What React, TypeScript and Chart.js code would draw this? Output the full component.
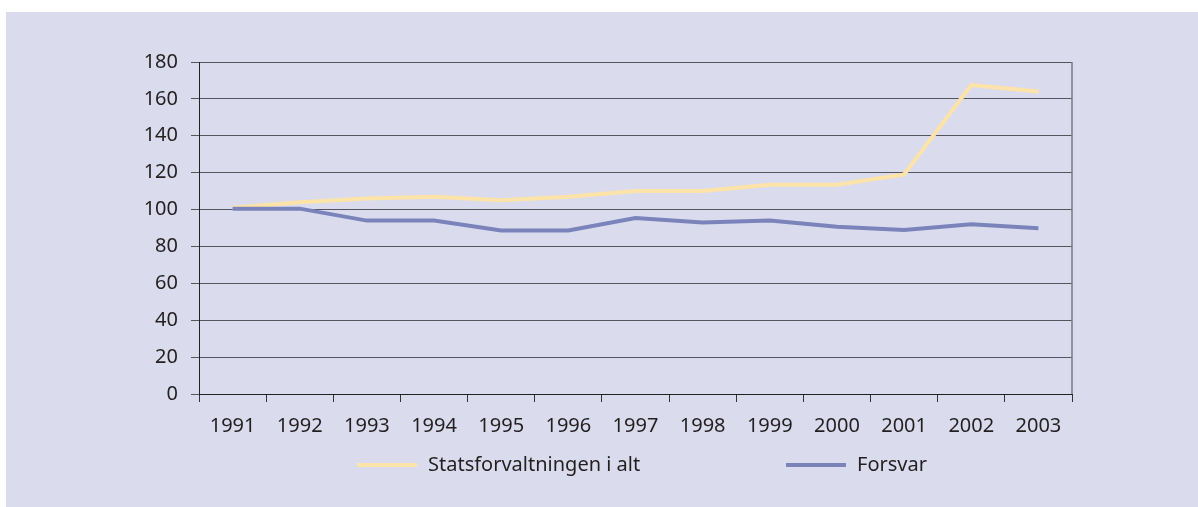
import React, { useEffect, useRef } from "react";
import { Chart, registerables } from "chart.js";

Chart.register(...registerables);

const years = ["1991", "1992", "1993", "1994", "1995", "1996", "1997", "1998", "1999", "2000", "2001", "2002", "2003"];
const statsforvaltningen = [101, 104, 106, 107, 105, 107, 110, 110, 113.5, 113.5, 119, 167.5, 164];
const forsvar = [100.5, 100.5, 94, 94, 88.7, 88.7, 95.4, 93, 94, 90.7, 88.9, 92, 89.8];
const seriesNames = ["Statsforvaltningen i alt", "Forsvar"];
const seriesColors = ["#fde3a7", "#7a84bb"];
const yMin = 0;
const yMax = 180;
const yStep = 20;

const FONT = "'Noto Sans', sans-serif";
const TEXT = "#231f20";

const legendPlugin = {
  id: "customLegend",
  afterDraw(chart: any) {
    const { ctx, chartArea } = chart;
    const y = chartArea.bottom + 71;
    const starts = [chartArea.left + 158, chartArea.left + 587];
    ctx.save();
    chart.data.datasets.forEach((ds: any, i: number) => {
      const x = starts[i];
      ctx.strokeStyle = ds.borderColor;
      ctx.lineWidth = 4;
      ctx.beginPath();
      ctx.moveTo(x, y);
      ctx.lineTo(x + 60, y);
      ctx.stroke();
      ctx.fillStyle = TEXT;
      ctx.font = `20px ${FONT}`;
      ctx.textBaseline = "middle";
      ctx.textAlign = "left";
      ctx.fillText(ds.label, x + 71, y);
    });
    // right border of plot area
    ctx.strokeStyle = "#7a7a80";
    ctx.lineWidth = 1.5;
    ctx.beginPath();
    ctx.moveTo(chartArea.right, chartArea.top);
    ctx.lineTo(chartArea.right, chartArea.bottom);
    ctx.stroke();
    ctx.restore();
  },
};

export default function App() {
  const ref = useRef<HTMLCanvasElement | null>(null);
  useEffect(() => {
    if (!ref.current) return;
    const chart = new Chart(ref.current, {
      type: "line",
      data: {
        labels: years,
        datasets: [
          {
            label: seriesNames[0],
            data: statsforvaltningen,
            borderColor: seriesColors[0],
            backgroundColor: seriesColors[0],
            borderWidth: 4,
            pointRadius: 0,
            tension: 0,
            order: 1,
          },
          {
            label: seriesNames[1],
            data: forsvar,
            borderColor: seriesColors[1],
            backgroundColor: seriesColors[1],
            borderWidth: 4,
            pointRadius: 0,
            tension: 0,
            order: 0,
          },
        ],
      },
      options: {
        responsive: false,
        animation: false,
        devicePixelRatio: 1,
        layout: { padding: { top: 50, right: 126, left: 0, bottom: 0 } },
        plugins: { legend: { display: false }, tooltip: { enabled: false } },
        scales: {
          x: {
            type: "category",
            offset: true,
            afterFit(scale: any) {
              scale.height = 113;
            },
            grid: {
              offset: true,
              drawOnChartArea: false,
              drawTicks: true,
              tickLength: 8,
              color: "#333",
            },
            border: { color: "#222", width: 1 },
            ticks: { color: TEXT, font: { family: FONT, size: 20 }, padding: 12, maxRotation: 0, autoSkip: false },
          },
          y: {
            min: yMin,
            max: yMax,
            afterFit(scale: any) {
              scale.width = 193;
            },
            grid: { color: "#55555e", tickLength: 8, drawTicks: true, lineWidth: 1 },
            border: { color: "#222", width: 1 },
            ticks: { stepSize: yStep, color: TEXT, font: { family: FONT, size: 20 }, padding: 13 },
          },
        },
      },
      plugins: [legendPlugin],
    });
    return () => chart.destroy();
  }, []);
  return (
    <div style={{ position: "absolute", left: 6, top: 12, width: 1192, height: 495, background: "#dadced" }}>
      <canvas ref={ref} width={1192} height={495} style={{ display: "block" }} />
    </div>
  );
}
